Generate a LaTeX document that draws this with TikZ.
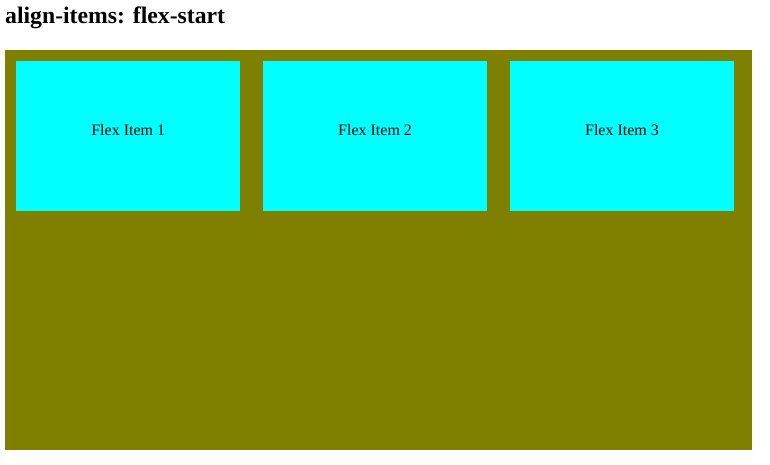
\documentclass[tikz,border=0pt]{standalone}
\usepackage{fontspec}
\setmainfont{Liberation Serif}
\usetikzlibrary{positioning}
\definecolor{olivebg}{RGB}{128,128,0}
\definecolor{itemcyan}{RGB}{0,255,255}

\begin{document}
\begin{tikzpicture}[x=1pt,y=-1pt,node distance=22.5pt,
		container/.style={fill=olivebg,draw=none,minimum width=747pt,minimum height=400pt,inner sep=0pt},
		flex item/.style={fill=itemcyan,draw=none,minimum width=224pt,minimum height=150pt,inner sep=0pt,
			text height=11pt,text depth=13pt,font=\fontsize{16}{19}\selectfont}]
		\useasboundingbox (0,0) rectangle (770,465);
		% title
		\node[anchor=base west,inner sep=0pt,font=\bfseries\fontsize{23.7}{28}\selectfont] (title) at (5,24) {align-items: flex-start};
		% container
		\node[container,anchor=north west] (box) at (5,50) {};
		% items
		\node[flex item,anchor=north west] (item1) at (16,61) {Flex Item 1};
		\node[flex item] (item2) [right=of item1] {Flex Item 2};
		\node[flex item] (item3) [right=of item2] {Flex Item 3};
\end{tikzpicture}
\end{document}
